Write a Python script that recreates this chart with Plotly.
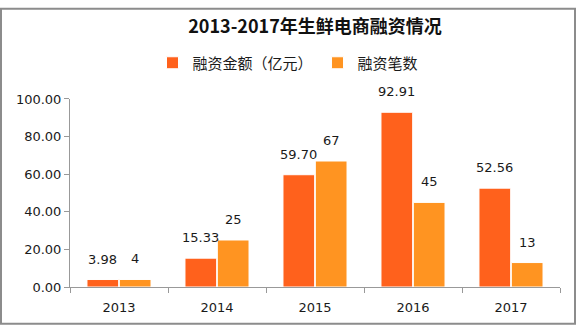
import plotly.graph_objects as go

years = ["2013", "2014", "2015", "2016", "2017"]
amount = [3.98, 15.33, 59.70, 92.91, 52.56]   # 融资金额（亿元）
deals = [4, 25, 67, 45, 13]                   # 融资笔数
y_ticks = [0, 20, 40, 60, 80, 100]

W, H = 576, 327
ML, MR, MT, MB = 70, 16, 94, 39

num_font = "DejaVu Sans, Noto Sans CJK SC, sans-serif"
cjk_font = "Noto Sans CJK SC, DejaVu Sans, sans-serif"
RED, ORANGE = "#FF611C", "#FF9421"

fig = go.Figure()
fig.add_trace(go.Bar(
    x=years, y=amount, name="融资金额（亿元）",
    marker=dict(color=RED, line=dict(color="white", width=1)),
    offsetgroup="a",
))
fig.add_trace(go.Bar(
    x=years, y=deals, name="融资笔数",
    marker=dict(color=ORANGE, line=dict(color="white", width=1)),
    offsetgroup="b",
))

# value labels above each bar (category axis: offset within group)
bargap, n = 0.34, 2
half = (1 - bargap) / n / 2
for i, yr in enumerate(years):
    for k, (vals, fmt) in enumerate([(amount, "{:.2f}"), (deals, "{:d}")]):
        xc = i - (1 - bargap) / 2 + half * (2 * k + 1)
        fig.add_annotation(
            x=xc, y=vals[i], xref="x", yref="y",
            text=fmt.format(vals[i]), showarrow=False,
            yanchor="bottom", yshift=11,
            font=dict(family=num_font, size=13, color="#1a1a1a"),
        )

# thin grey frame around the whole canvas
pw, ph = W - ML - MR, H - MT - MB
fig.add_shape(
    type="rect", xref="paper", yref="paper",
    x0=-(ML - 1) / pw, x1=1 + (MR - 1) / pw,
    y0=-(MB - 1) / ph, y1=1 + (MT - 1) / ph,
    line=dict(color="#8c8c8c", width=2), layer="above",
)

fig.update_layout(
    width=W, height=H,
    margin=dict(l=ML, r=MR, t=MT, b=MB),
    paper_bgcolor="white", plot_bgcolor="white",
    barmode="group", bargap=bargap, bargroupgap=0.02,
    title=dict(
        text="<b>2013-2017年生鲜电商融资情况</b>",
        x=0.5, xref="paper", xanchor="center",
        y=1 - 27 / H, yref="container", yanchor="middle",
        font=dict(family=cjk_font, size=18, color="#111111"),
    ),
    legend=dict(
        orientation="h", x=0.5, xanchor="center", xref="container",
        y=1 - 63 / H, yref="container", yanchor="middle",
        font=dict(family=cjk_font, size=15, color="#1a1a1a"),
        itemwidth=30, traceorder="normal",
    ),
    showlegend=True,
    xaxis=dict(
        type="category", showline=True, linecolor="#999999", linewidth=1,
        ticks="outside", tickson="boundaries", ticklen=5, tickcolor="#999999",
        showgrid=False, ticklabelstandoff=8,
        tickfont=dict(family=num_font, size=13, color="#1a1a1a"),
    ),
    yaxis=dict(
        range=[0, 100], tickvals=y_ticks, ticktext=[f"{v:.2f}" for v in y_ticks],
        showline=True, linecolor="#999999", linewidth=1,
        ticks="outside", ticklen=5, tickcolor="#999999",
        showgrid=False, zeroline=False,
        tickfont=dict(family=num_font, size=13, color="#1a1a1a"),
    ),
)

fig.write_html("out.html")
